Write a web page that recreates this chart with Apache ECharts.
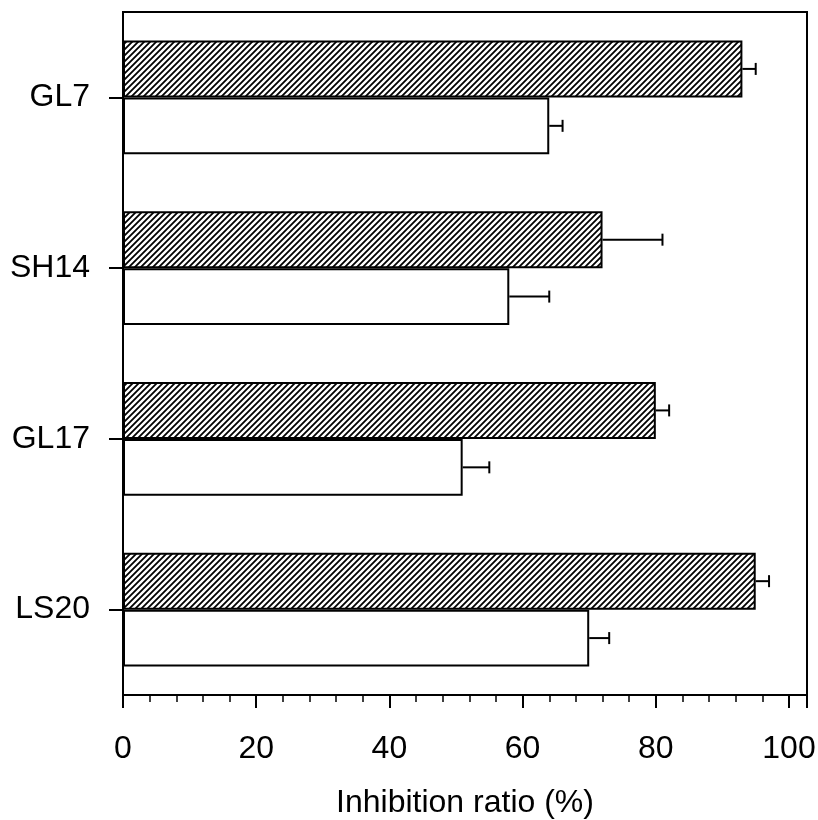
<!DOCTYPE html>
<html>
<head>
<meta charset="utf-8">
<script src="https://cdn.jsdelivr.net/npm/echarts@6/dist/echarts.min.js"></script>
<style>html,body{margin:0;padding:0;background:#fff}#c{width:818px;height:820px}</style>
</head>
<body>
<div id="c"></div>
<script>
var categories = ['GL7', 'SH14', 'GL17', 'LS20'];
var hatchedValues = [93, 72, 80, 95];
var hatchedErrors = [2, 9, 2, 2];
var openValues = [64, 58, 51, 70];
var openErrors = [2, 6, 4, 3];
var xTicks = [0, 20, 40, 60, 80, 100];

function makeHatch() {
  var s = 6;
  var cv = document.createElement('canvas');
  cv.width = s; cv.height = s;
  var ctx = cv.getContext('2d');
  ctx.fillStyle = '#fff';
  ctx.fillRect(0, 0, s, s);
  ctx.strokeStyle = '#000';
  ctx.lineWidth = 1.8;
  ctx.beginPath();
  ctx.moveTo(-1, s + 1); ctx.lineTo(s + 1, -1);
  ctx.moveTo(-1, 1); ctx.lineTo(1, -1);
  ctx.moveTo(s - 1, s + 1); ctx.lineTo(s + 1, s - 1);
  ctx.stroke();
  return cv;
}

function errData(vals, errs) {
  return vals.map(function (v, i) { return [v, i, v + errs[i]]; });
}

function errRender(offsetSign) {
  return function (params, api) {
    var v = api.value(0), ci = api.value(1), hi = api.value(2);
    var band = api.size([0, 1])[1];
    var p0 = api.coord([v, ci]);
    var p1 = api.coord([hi, ci]);
    var y = p0[1] + offsetSign * band / 6;
    var cap = 6;
    var st = { stroke: '#000', lineWidth: 2 };
    return {
      type: 'group',
      children: [
        { type: 'line', shape: { x1: p0[0], y1: y, x2: p1[0], y2: y }, style: st },
        { type: 'line', shape: { x1: p1[0], y1: y - cap, x2: p1[0], y2: y + cap }, style: st }
      ]
    };
  };
}

var chart = echarts.init(document.getElementById('c'), null, { renderer: 'canvas' });
var font = 'Liberation Sans, Arial, sans-serif';
chart.setOption({
  animation: false,
  backgroundColor: '#fff',
  grid: { left: 123, right: 11, top: 12, bottom: 125, outerBoundsMode: 'none', containLabel: false, show: true, borderColor: '#000', borderWidth: 2, backgroundColor: 'transparent' },
  xAxis: {
    type: 'value', min: 0, max: 102.7, interval: 20,
    name: 'Inhibition ratio (%)', nameLocation: 'middle', nameGap: 92,
    nameTextStyle: { color: '#000', fontSize: 32, fontFamily: font },
    axisLine: { show: true, lineStyle: { color: '#000', width: 2 } },
    axisTick: { show: true, length: 13, lineStyle: { color: '#000', width: 2 } },
    minorTick: { show: true, splitNumber: 5, length: 7, lineStyle: { color: '#000', width: 1.5 } },
    axisLabel: {
      color: '#000', fontSize: 32, fontFamily: font, margin: 38,
      formatter: function (v) { return xTicks.indexOf(v) >= 0 ? String(v) : ''; }
    },
    splitLine: { show: false }
  },
  yAxis: {
    type: 'category', data: categories, inverse: true,
    axisLine: { show: true, lineStyle: { color: '#000', width: 2 } },
    axisTick: { show: true, alignWithLabel: true, length: 14, lineStyle: { color: '#000', width: 2 } },
    axisLabel: { color: '#000', fontSize: 32, fontFamily: font, margin: 33 },
    splitLine: { show: false }
  },
  series: [
    {
      type: 'bar', data: hatchedValues, barGap: '0%', barCategoryGap: '33.3%',
      itemStyle: { color: { image: makeHatch(), repeat: 'repeat' }, borderColor: '#000', borderWidth: 2 },
      z: 2
    },
    {
      type: 'bar', data: openValues, barGap: '0%', barCategoryGap: '33.3%',
      itemStyle: { color: '#fff', borderColor: '#000', borderWidth: 2 },
      z: 2
    },
    {
      type: 'custom', data: errData(hatchedValues, hatchedErrors),
      renderItem: errRender(-1), encode: { x: [0, 2], y: 1 }, z: 3
    },
    {
      type: 'custom', data: errData(openValues, openErrors),
      renderItem: errRender(1), encode: { x: [0, 2], y: 1 }, z: 3
    }
  ]
});
</script>
</body>
</html>
